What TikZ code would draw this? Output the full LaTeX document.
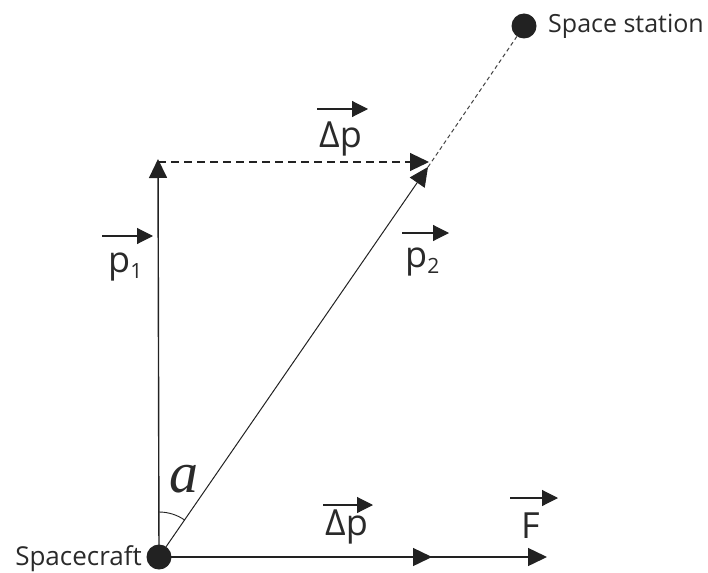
\documentclass[tikz,border=0pt]{standalone}
\usepackage{fontspec}
\setmainfont{Open Sans}
\newfontfamily\anglefont{Liberation Serif}
\usetikzlibrary{arrows.meta}
\definecolor{ink}{HTML}{222222}
\definecolor{txt}{HTML}{2A2A2A}
\begin{document}
\begin{tikzpicture}[x=1pt,y=-1pt,
  mainvec/.style={draw=ink, line width=1.4pt, -{Triangle[length=19pt,width=18pt]}},
  thinvec/.style={draw=ink, line width=1pt, -{Triangle[length=19pt,width=18pt]}},
  dashvec/.style={draw=ink, line width=1.1pt, dash pattern=on 8pt off 5pt, -{Triangle[length=19pt,width=18pt]}},
  overvec/.style={draw=ink, line width=1.1pt, -{Triangle[length=16pt,width=16pt]}},
  dotnode/.style={circle, fill=ink, minimum size=25pt, inner sep=0pt},
  lbl/.style={text=txt, font=\fontsize{36}{36}\selectfont, inner sep=0pt, anchor=base west},
  placelbl/.style={text=txt, font=\fontsize{25}{25}\selectfont, inner sep=0pt, anchor=base west}]
\useasboundingbox (0,0) rectangle (708,572);

% key points
\coordinate (sc) at (159,557);
\coordinate (top) at (158,159);
\coordinate (dpend) at (429,162);
\coordinate (p2end) at (428,167);
\coordinate (mid) at (432,557);
\coordinate (fend) at (547,557);
\coordinate (ss) at (524,26);

% vectors
\draw[mainvec] (sc) -- (top);
\draw[dashvec] (top |- dpend) -- (dpend);
\draw[thinvec] (sc) -- (p2end);
\draw[draw=ink!85, line width=1pt, dash pattern=on 4pt off 3pt] (p2end) -- (ss);
\draw[mainvec] (sc) -- (fend);
\draw[mainvec] (sc) -- (mid);

% angle
\draw[draw=ink, line width=0.9pt] (sc) ++(0,-45) arc[start angle=-90, end angle=-55.2, radius=45];
\node[inner sep=0pt, anchor=base west, text=txt, font=\anglefont\itshape\fontsize{58}{58}\selectfont] (alpha) at (169,492) {a};

% dots
\node[dotnode] (craft) at (sc) {};
\node[dotnode] (station) at (ss) {};
\node[placelbl, anchor=base east, font=\fontsize{26}{26}\selectfont] (craftlbl) at (142,565) {Spacecraft};
\node[placelbl] (stationlbl) at (548,33) {Space station};

% labels with over-arrows
\node[lbl] (dptop) at (319,148) {Δp};
\coordinate (dptopA) at (317,109); \coordinate (dptopB) at (368,109);
\draw[overvec] (dptopA) -- (dptopB);

\node[lbl] (pone) at (108,272) {p\textsubscript{\fontsize{21}{21}\selectfont 1}};
\coordinate (poneA) at (102,236); \coordinate (poneB) at (153,236);
\draw[overvec] (poneA) -- (poneB);

\node[lbl] (ptwo) at (405,267) {p\textsubscript{\fontsize{21}{21}\selectfont 2}};
\coordinate (ptwoA) at (402,233); \coordinate (ptwoB) at (449,233);
\draw[overvec] (ptwoA) -- (ptwoB);

\node[lbl] (dpbot) at (325,535) {Δp};
\coordinate (dpbotA) at (323,505); \coordinate (dpbotB) at (373,505);
\draw[overvec] (dpbotA) -- (dpbotB);

\node[lbl] (force) at (521,538) {F};
\coordinate (forceA) at (510,498); \coordinate (forceB) at (558,498);
\draw[overvec] (forceA) -- (forceB);
\end{tikzpicture}
\end{document}
